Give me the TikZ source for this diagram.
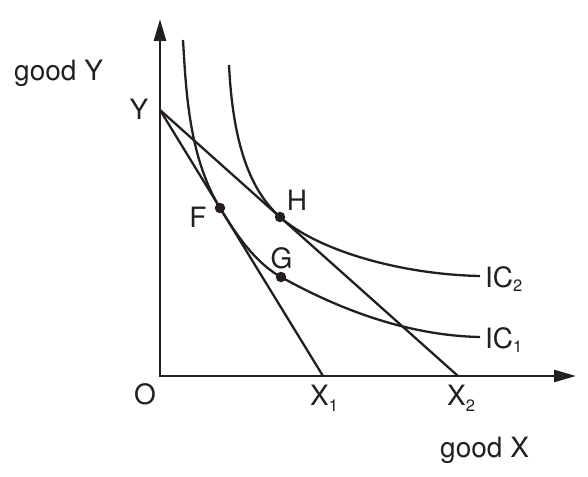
\documentclass[tikz,border=0pt]{standalone}
\usepackage{fontspec}
\setmainfont{TeX Gyre Heros}
\usetikzlibrary{arrows.meta}
\definecolor{ink}{HTML}{231F20}
\newcommand{\mysub}[2]{\raisebox{-#1pt}{\fontsize{16.5}{16.5}\selectfont #2}}
\begin{document}
\begin{tikzpicture}[x=1pt,y=-1pt,
  axis/.style={line width=2.5pt, draw=ink, line join=miter, {Triangle[length=22pt,width=12pt]}-{Triangle[length=22pt,width=12pt]}},
  curve/.style={line width=2.3pt, draw=ink},
  dot/.style={circle, fill=ink, inner sep=0pt, minimum size=10.5pt},
  lbl/.style={inner sep=0pt, text=ink, font=\fontsize{28}{28}\selectfont},
]
\useasboundingbox (0,0) rectangle (588,476);
\coordinate (O) at (160,376);
\coordinate (Ytop) at (160,19);
\coordinate (Xend) at (576,376);
\coordinate (Y) at (160,110);
\coordinate (X1) at (323,376);
\coordinate (X2) at (458,376);
\coordinate (ic1s) at (183,40);
\coordinate (ic1e) at (480,337);
\coordinate (ic2s) at (229,65);
\coordinate (ic2e) at (480,276);
\node[dot] (F) at (220,208) {};
\node[dot] (G) at (281,277) {};
\node[dot] (H) at (280,217) {};
\draw[axis] (Ytop) -- (O) -- (Xend);
\draw[curve] (Y) -- (X1);
\draw[curve] (Y) -- (X2);
\draw[curve] (ic1s) .. controls (186,90) and (188.7,156.8) .. (F.center)
  .. controls (235.7,233.6) and (254.7,262.5) .. (G.center)
  .. controls (342,311) and (410,335.6) .. (ic1e);
\draw[curve] (ic2s) .. controls (232.5,135) and (246.4,187) .. (H.center)
  .. controls (317.3,250.3) and (400,274.4) .. (ic2e);
\node[lbl, anchor=base west] (gy) at (14,81) {good Y};
\node[lbl, anchor=base] (ly) at (139,120) {Y};
\node[lbl, anchor=base] (lo) at (145,404) {O};
\node[lbl, anchor=base west] (lx1) at (310,405) {X\mysub{6}{1}};
\node[lbl, anchor=base west] (lx2) at (447,405) {X\mysub{6}{2}};
\node[lbl, anchor=base west] (gx) at (440,457) {good X};
\node[lbl, anchor=base] (lf) at (198,227) {F};
\node[lbl, anchor=base] (lh) at (297,210) {H};
\node[lbl, anchor=base] (lg) at (281.5,268) {G};
\node[lbl, anchor=base west] (lic2) at (485,287) {IC\mysub{4}{2}};
\node[lbl, anchor=base west] (lic1) at (485,348) {IC\mysub{4}{1}};
\end{tikzpicture}
\end{document}
